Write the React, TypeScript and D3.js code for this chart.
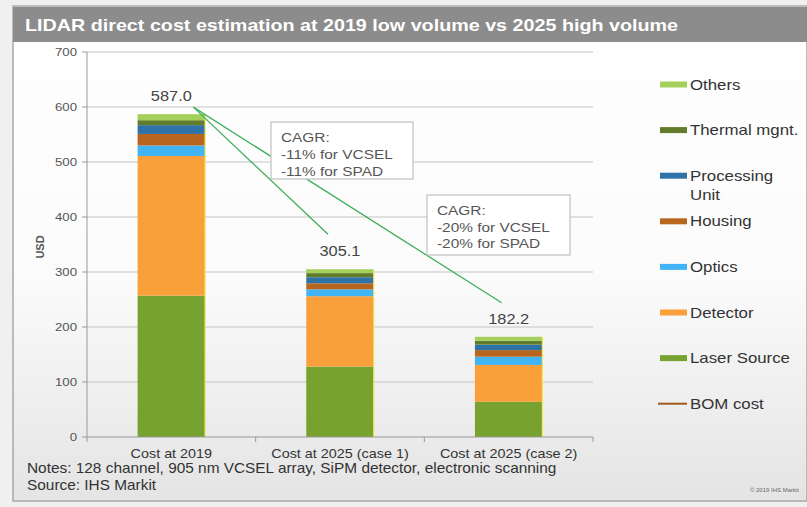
import React from 'react';
import * as d3 from 'd3';

const categories = ['Cost at 2019', 'Cost at 2025 (case 1)', 'Cost at 2025 (case 2)'];
const laserSource = [257, 128, 64];
const detector = [254, 128, 67];
const optics = [19, 12.5, 15];
const housing = [21, 11, 12];
const processingUnit = [16, 11, 10];
const thermalMgnt = [9, 7.5, 7];
const others = [11, 7.1, 7.2];
const bomCost = [587.0, 305.1, 182.2];
const yTicks = [0, 100, 200, 300, 400, 500, 600, 700];
const seriesKeys = ['Laser Source', 'Detector', 'Optics', 'Housing', 'Processing Unit', 'Thermal mgnt.', 'Others'];
const seriesColors = ['#78a22f', '#f9a03b', '#41b4f5', '#b8651f', '#2f72a8', '#617d2b', '#a4cf5b'];
const legendOrder = ['Others', 'Thermal mgnt.', 'Processing Unit', 'Housing', 'Optics', 'Detector', 'Laser Source', 'BOM cost'];
const bomColor = '#a0581c';
const cagr1 = ['CAGR:', '-11% for VCSEL', '-11% for SPAD'];
const cagr2 = ['CAGR:', '-20% for VCSEL', '-20% for SPAD'];
const title = 'LIDAR direct cost estimation at 2019 low volume vs 2025 high volume';
const notes = 'Notes: 128 channel, 905 nm VCSEL array, SiPM detector, electronic scanning';
const source = 'Source: IHS Markit';
const copyright = '\u00a9 2019 IHS Markit';

const FONT = '"Liberation Sans", Arial, sans-serif';

function T(props: { x: number; y: number; sx?: number; size: number; fill?: string; anchor?: string; weight?: string; children: any }) {
  const { x, y, sx = 1.15, size, fill = '#333', anchor = 'start', weight = 'normal', children } = props;
  return (
    <text transform={`translate(${x},${y}) scale(${sx},1)`} fontSize={size} fill={fill} textAnchor={anchor as any} fontWeight={weight}>
      {children}
    </text>
  );
}

export default function App() {
  const W = 807, H = 507;
  const x = d3.scaleBand<string>().domain(categories).range([87, 593]).paddingInner(0.6).paddingOuter(0.3);
  const y = d3.scaleLinear().domain([0, 700]).range([437, 52]);
  const table = categories.map((c, i) => ({
    cat: c,
    'Laser Source': laserSource[i],
    'Detector': detector[i],
    'Optics': optics[i],
    'Housing': housing[i],
    'Processing Unit': processingUnit[i],
    'Thermal mgnt.': thermalMgnt[i],
    'Others': others[i],
  }));
  const stacked = d3.stack<any>().keys(seriesKeys)(table);
  const colorOf = d3.scaleOrdinal<string, string>().domain(seriesKeys).range(seriesColors);
  const bw = x.bandwidth();
  const cx = (i: number) => (x(categories[i]) as number) + bw / 2;
  const boundaries = [0, 1, 2, 3].map(i => 87 + i * (506 / 3));

  const start = [cx(0) + 22, y(bomCost[0]) - 7];
  const end1 = [cx(1) - 12, y(bomCost[1]) - 35];
  const end2 = [cx(2) - 7, y(bomCost[2]) - 34];

  const legendY0 = 84.5;
  const legendStep = 45.6;

  return (
    <svg width={W} height={H} style={{ position: 'absolute', left: 0, top: 0 }} fontFamily={FONT}>
      <defs>
        <linearGradient id="bg" x1="0" y1="0" x2="0" y2="1">
          <stop offset="0" stopColor="#ffffff" />
          <stop offset="0.55" stopColor="#fbfbfb" />
          <stop offset="1" stopColor="#e4e4e4" />
        </linearGradient>
      </defs>
      <rect x={0} y={0} width={W} height={H} fill="#f0f0f0" />
      <rect x={13} y={6} width={W - 13} height={495} fill="url(#bg)" stroke="#a8a8a8" strokeWidth={1.5} />
      <rect x={13} y={7} width={W - 13} height={35} fill="#8c8c8c" />
      <T x={25} y={31} size={17} sx={1.16} fill="#ffffff" weight="bold">{title}</T>

      {/* gridlines */}
      {yTicks.map(t => (
        <g key={t}>
          {t > 0 && <line x1={87} x2={593} y1={y(t)} y2={y(t)} stroke="#c4c4c4" strokeWidth={1.2} />}
          <line x1={82} x2={87} y1={y(t)} y2={y(t)} stroke="#999" />
          <T x={77} y={y(t) + 4} anchor="end" size={11.5} fill="#555">{t}</T>
        </g>
      ))}
      <line x1={87} x2={87} y1={y(700)} y2={y(0)} stroke="#999" />
      <text transform={`translate(44,${247}) rotate(-90)`} textAnchor="middle" fontSize={11} fontWeight="bold" fill="#555">USD</text>

      {/* bars */}
      {stacked.map(s => (
        <g key={s.key} fill={colorOf(s.key)}>
          {s.map((d, i) => (
            <rect key={i} x={x(categories[i])} width={bw} y={y(d[1])} height={y(d[0]) - y(d[1])} />
          ))}
        </g>
      ))}
      {categories.map((c, i) => (
        <line key={c} x1={(x(c) as number) + bw} x2={(x(c) as number) + bw} y1={y(0)} y2={y(bomCost[i])} stroke="#f2e65a" strokeWidth={1.2} />
      ))}

      {/* x axis */}
      <line x1={87} x2={593} y1={y(0)} y2={y(0)} stroke="#999" />
      {boundaries.map((b, i) => (
        <line key={i} x1={b} x2={b} y1={y(0)} y2={y(0) + 5} stroke="#999" />
      ))}
      {categories.map((c, i) => (
        <T key={c} x={cx(i)} y={457.5} anchor="middle" size={12.5} fill="#333">{c}</T>
      ))}

      {/* value labels */}
      {bomCost.map((v, i) => (
        <T key={i} x={cx(i)} y={y(v) - 13} anchor="middle" size={14} sx={1.17} fill="#444">{v.toFixed(1)}</T>
      ))}

      {/* connector lines */}
      <line x1={start[0]} y1={start[1]} x2={end1[0]} y2={end1[1]} stroke="#3fae5c" strokeWidth={1.3} />
      <line x1={start[0]} y1={start[1]} x2={end2[0]} y2={end2[1]} stroke="#3fae5c" strokeWidth={1.3} />

      {/* CAGR boxes */}
      <rect x={271} y={122} width={142} height={57} fill="#ffffff" stroke="#c0c0c0" strokeWidth={1.2} />
      {cagr1.map((t, i) => (
        <T key={i} x={281} y={141.5 + i * 17} size={13.5} sx={1.14} fill="#555">{t}</T>
      ))}
      <rect x={427} y={195} width={143} height={60} fill="#ffffff" stroke="#c0c0c0" strokeWidth={1.2} />
      {cagr2.map((t, i) => (
        <T key={i} x={437} y={215 + i * 16.5} size={13.5} sx={1.14} fill="#555">{t}</T>
      ))}

      {/* legend */}
      {legendOrder.map((name, i) => {
        const cy = legendY0 + i * legendStep;
        const isBom = name === 'BOM cost';
        const lines = name === 'Processing Unit' ? ['Processing', 'Unit'] : [name];
        return (
          <g key={name}>
            {isBom ? (
              <line x1={658} x2={687} y1={cy} y2={cy} stroke={bomColor} strokeWidth={2} />
            ) : (
              <rect x={660} y={cy - 3} width={27} height={6} fill={colorOf(name)} />
            )}
            {lines.map((l, j) => (
              <T key={j} x={690} y={cy + 5 + j * 19} size={14.5} sx={1.16} fill="#333">{l}</T>
            ))}
          </g>
        );
      })}

      {/* notes */}
      <T x={27} y={473} size={14} sx={1.1} fill="#333">{notes}</T>
      <T x={27} y={490} size={14} sx={1.1} fill="#333">{source}</T>
      <text x={799} y={492} textAnchor="end" fontSize={6} fill="#666">{copyright}</text>
    </svg>
  );
}
